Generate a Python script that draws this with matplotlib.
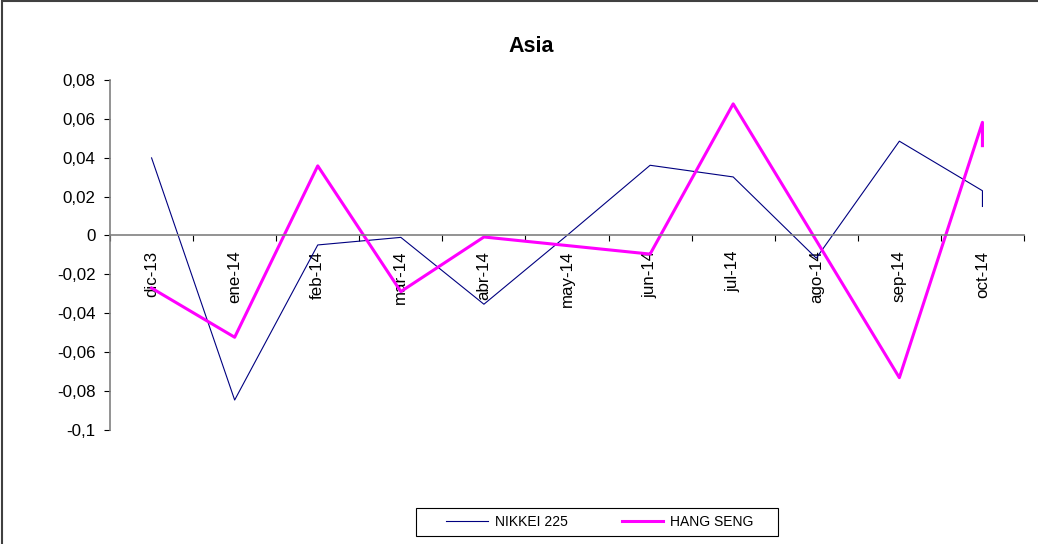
import matplotlib.pyplot as plt
from matplotlib.patches import Rectangle

plt.rcParams['font.family'] = ['Liberation Sans', 'DejaVu Sans']

# categories (last month has two readings, plotted at the same position)
months = ['dic-13', 'ene-14', 'feb-14', 'mar-14', 'abr-14', 'may-14',
          'jun-14', 'jul-14', 'ago-14', 'sep-14', 'oct-14']
point_month = [0, 1, 2, 3, 4, 5, 6, 7, 8, 9, 10, 10]

nikkei = [0.0399, -0.0847, -0.0049, -0.0010, -0.0354, 0.0000,
          0.0361, 0.0301, -0.0117, 0.0485, 0.0230, 0.0149]
hang_seng = [-0.0271, -0.0524, 0.0358, -0.0289, -0.0008, -0.0052,
             -0.0096, 0.0677, -0.0026, -0.0732, 0.0582, 0.0462]

yticks = [0.08, 0.06, 0.04, 0.02, 0, -0.02, -0.04, -0.06, -0.08, -0.1]
ytick_labels = ['0,08', '0,06', '0,04', '0,02', '0', '-0,02', '-0,04', '-0,06', '-0,08', '-0,1']

fig = plt.figure(figsize=(10.38, 5.44), dpi=100)
ax = fig.add_axes([0.106, 0.21, 0.8805, 0.643])

ax.plot(point_month, nikkei, color='#000080', lw=0.8, label='NIKKEI 225')
ax.plot(point_month, hang_seng, color='#FF00FF', lw=2.2, label='HANG SENG')

ax.set_xlim(-0.5, 10.5)
ax.set_ylim(-0.1, 0.08)

# y axis
ax.set_yticks(yticks)
ax.set_yticklabels(ytick_labels, fontsize=12.2)
ax.tick_params(axis='y', direction='out', length=4.3, width=0.8, pad=6)

# x axis sits on zero, labels rotated under it
ax.spines['bottom'].set_position(('data', 0))
ax.spines['top'].set_visible(False)
ax.spines['right'].set_visible(False)
for s in ['left', 'bottom']:
    ax.spines[s].set_color('#808080')
    ax.spines[s].set_linewidth(1.2)
ax.set_xticks(range(len(months)))
ax.set_xticklabels(months, rotation=90, fontsize=12.2)
ax.tick_params(axis='x', length=0, pad=11)
ax.set_xticks([i - 0.5 for i in range(len(months) + 1)], minor=True)
ax.tick_params(axis='x', which='minor', direction='out', length=4.3, width=0.8)

fig.text(0.512, 0.915, 'Asia', ha='center', va='center', fontsize=15.5, fontweight='bold')

leg = fig.legend(loc='center', bbox_to_anchor=(0.578, 0.0405), ncol=2, fontsize=10,
                 frameon=False, handlelength=3.0, handletextpad=0.5,
                 columnspacing=3.9, borderpad=0.2)

# legend box, wider than the entries
fig.add_artist(Rectangle((0.4008, 0.0147), 0.3487, 0.0515, transform=fig.transFigure,
                         fill=False, edgecolor='black', lw=0.8))

# outer chart border (only top and left visible)
fig.add_artist(Rectangle((0.002, -0.1), 1.2, 1.098, transform=fig.transFigure,
                         fill=False, edgecolor='#404040', lw=1.5))

plt.savefig('out.png', dpi=100)
